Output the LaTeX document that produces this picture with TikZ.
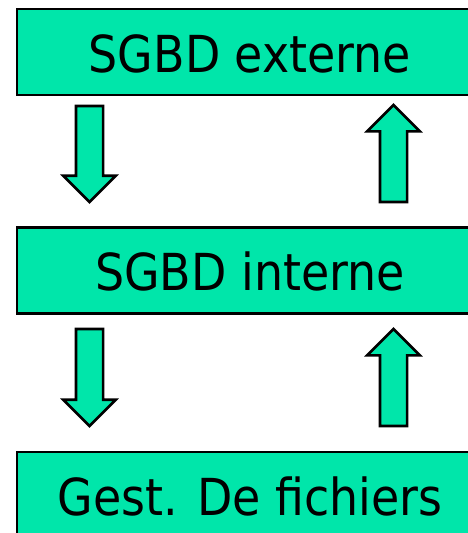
\documentclass[tikz,border=0pt]{standalone}
\usepackage{fontspec}
\setmainfont{DejaVu Sans}[FakeStretch=0.9]
\usetikzlibrary{shapes.arrows}
\definecolor{sgbdgreen}{RGB}{0,230,170}

\begin{document}
\begin{tikzpicture}
		[x=1pt, y=-1pt,
		layer/.style={rectangle, fill=sgbdgreen, draw=black, line width=2.4pt,
			minimum width=466pt, minimum height=86pt, inner sep=0pt,
			font=\fontsize{51}{60}\selectfont, text height=40pt, text depth=0pt},
		flow/.style={single arrow, fill=sgbdgreen, draw=black, line width=2.6pt,
			inner sep=12.25pt, outer sep=0pt, single arrow head extend=12.75pt,
			single arrow tip angle=90, minimum height=97pt, anchor=tail},
		down/.style={flow, shape border rotate=270},
		up/.style={flow, shape border rotate=90},
		]
		\useasboundingbox (0,0) rectangle (468,533);
		\clip (0,0) rectangle (468,533);
		
		% les trois couches
		\node[layer] (ext) at (250,52) {SGBD externe};
		\node[layer] (int) at (250,270.5) {SGBD interne};
		\node[layer] (fich) at (250,495) {Gest. De fichiers};
		
		% requetes vers le bas, reponses vers le haut
		\node[down, minimum height=96pt] (down1) at (89.5,106) {};
		\node[up] (up1) at (393.5,202) {};
		\node[down] (down2) at (89.5,329) {};
		\node[up] (up2) at (393.5,426) {};
		
	\end{tikzpicture}
\end{document}
